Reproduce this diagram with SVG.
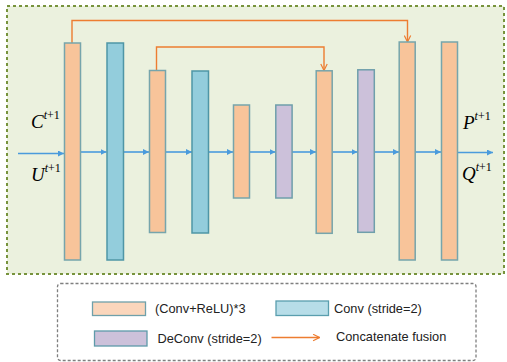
<svg xmlns="http://www.w3.org/2000/svg" width="507" height="362" viewBox="0 0 507 362">
<style>
.o{fill:#F8C49A;stroke:#76A5AC;stroke-width:1.5}
.b{fill:#93CDDC;stroke:#4F96A6;stroke-width:1.5}
.p{fill:#CCC1DA;stroke:#6F9FAB;stroke-width:1.5}
.flow{stroke:#4A9BDC;stroke-width:1.6;fill:none}
.skip{stroke:#ED7D31;stroke-width:1.4;fill:none}
.math{font-family:"Liberation Serif",serif;font-style:italic;font-size:19px;fill:#000}
.sup{font-size:12px}
.up{font-style:normal}
.lg{font-family:"Liberation Sans",Arial,sans-serif;font-size:12.8px;fill:#222}
</style>
<defs>
<marker id="ab" viewBox="0 0 10 10" refX="10" refY="5" markerWidth="6" markerHeight="6" markerUnits="userSpaceOnUse" orient="auto"><path d="M0,0 L10,5 L0,10 z" fill="#4A9BDC"/></marker>
<marker id="ao" viewBox="0 0 10 10" refX="9" refY="5" markerWidth="8" markerHeight="8" markerUnits="userSpaceOnUse" orient="auto"><path d="M1,1 L9,5 L1,9" fill="none" stroke="#ED7D31" stroke-width="1.5"/></marker>
</defs>
<rect x="7" y="6" width="497" height="268" fill="#EBF1DE" stroke="#77933C" stroke-width="2" stroke-dasharray="3,3"/>
<g id="connectors">
<line class="flow" x1="18" y1="153.5" x2="64" y2="153.5" marker-end="url(#ab)"/>
<line class="flow" x1="80" y1="152" x2="106.5" y2="152" marker-end="url(#ab)"/>
<line class="flow" x1="123.5" y1="152" x2="149" y2="152" marker-end="url(#ab)"/>
<line class="flow" x1="165.5" y1="152" x2="192" y2="152" marker-end="url(#ab)"/>
<line class="flow" x1="208.5" y1="152" x2="233" y2="152" marker-end="url(#ab)"/>
<line class="flow" x1="249.5" y1="152" x2="275.5" y2="152" marker-end="url(#ab)"/>
<line class="flow" x1="292" y1="152" x2="316" y2="152" marker-end="url(#ab)"/>
<line class="flow" x1="332.5" y1="152" x2="357.5" y2="152" marker-end="url(#ab)"/>
<line class="flow" x1="374.5" y1="152" x2="399" y2="152" marker-end="url(#ab)"/>
<line class="flow" x1="415.5" y1="152" x2="441" y2="152" marker-end="url(#ab)"/>
<line class="flow" x1="458" y1="152.5" x2="493" y2="152.5" marker-end="url(#ab)"/>
<polyline class="skip" points="72,43 72,20.5 407.5,20.5 407.5,42" marker-end="url(#ao)"/>
<polyline class="skip" points="156.5,70 156.5,47 324,47 324,70.5" marker-end="url(#ao)"/>
</g>
<g id="n1"><rect class="o" x="64.5" y="43" width="16" height="217"/></g>
<g id="n2"><rect class="b" x="107" y="43" width="16.5" height="217"/></g>
<g id="n3"><rect class="o" x="149.5" y="70.5" width="16" height="162"/></g>
<g id="n4"><rect class="b" x="192" y="71" width="16.5" height="162"/></g>
<g id="n5"><rect class="o" x="233.5" y="105" width="16" height="93"/></g>
<g id="n6"><rect class="p" x="275.8" y="105" width="16.3" height="93"/></g>
<g id="n7"><rect class="o" x="316.2" y="70.8" width="16" height="162.5"/></g>
<g id="n8"><rect class="p" x="357.8" y="69.8" width="16.5" height="162.5"/></g>
<g id="n9"><rect class="o" x="399.2" y="42" width="16" height="218"/></g>
<g id="n10"><rect class="o" x="441.5" y="42" width="16" height="218"/></g>
<g id="labels">
<text class="math" x="31" y="128">C<tspan class="sup" dy="-9">t</tspan><tspan class="sup up">+1</tspan></text>
<text class="math" x="31" y="181">U<tspan class="sup" dy="-9">t</tspan><tspan class="sup up">+1</tspan></text>
<text class="math" x="463" y="129">P<tspan class="sup" dy="-9">t</tspan><tspan class="sup up">+1</tspan></text>
<text class="math" x="462" y="180">Q<tspan class="sup" dy="-9">t</tspan><tspan class="sup up">+1</tspan></text>
</g>
<g id="legend">
<rect x="57.5" y="283.5" width="418.5" height="77" rx="3" fill="#fff" stroke="#7F7F7F" stroke-width="1.3" stroke-dasharray="3,2"/>
<rect x="92.5" y="302" width="53" height="13.5" fill="#FAD6BC" stroke="#6FA0AA" stroke-width="1.3"/>
<text class="lg" x="155" y="312.5">(Conv+ReLU)*3</text>
<rect x="276" y="301" width="52.5" height="14.5" fill="#B7DDE8" stroke="#5A9EAE" stroke-width="1.3"/>
<text class="lg" x="334" y="312.5">Conv (stride=2)</text>
<rect x="94.5" y="331" width="52.5" height="15" fill="#CCC1DA" stroke="#5E9AAA" stroke-width="1.3"/>
<text class="lg" x="157.5" y="342.5">DeConv (stride=2)</text>
<line class="skip" x1="271.5" y1="337.5" x2="319.5" y2="337.5" marker-end="url(#ao)"/>
<text class="lg" x="336" y="341">Concatenate fusion</text>
</g>
</svg>
